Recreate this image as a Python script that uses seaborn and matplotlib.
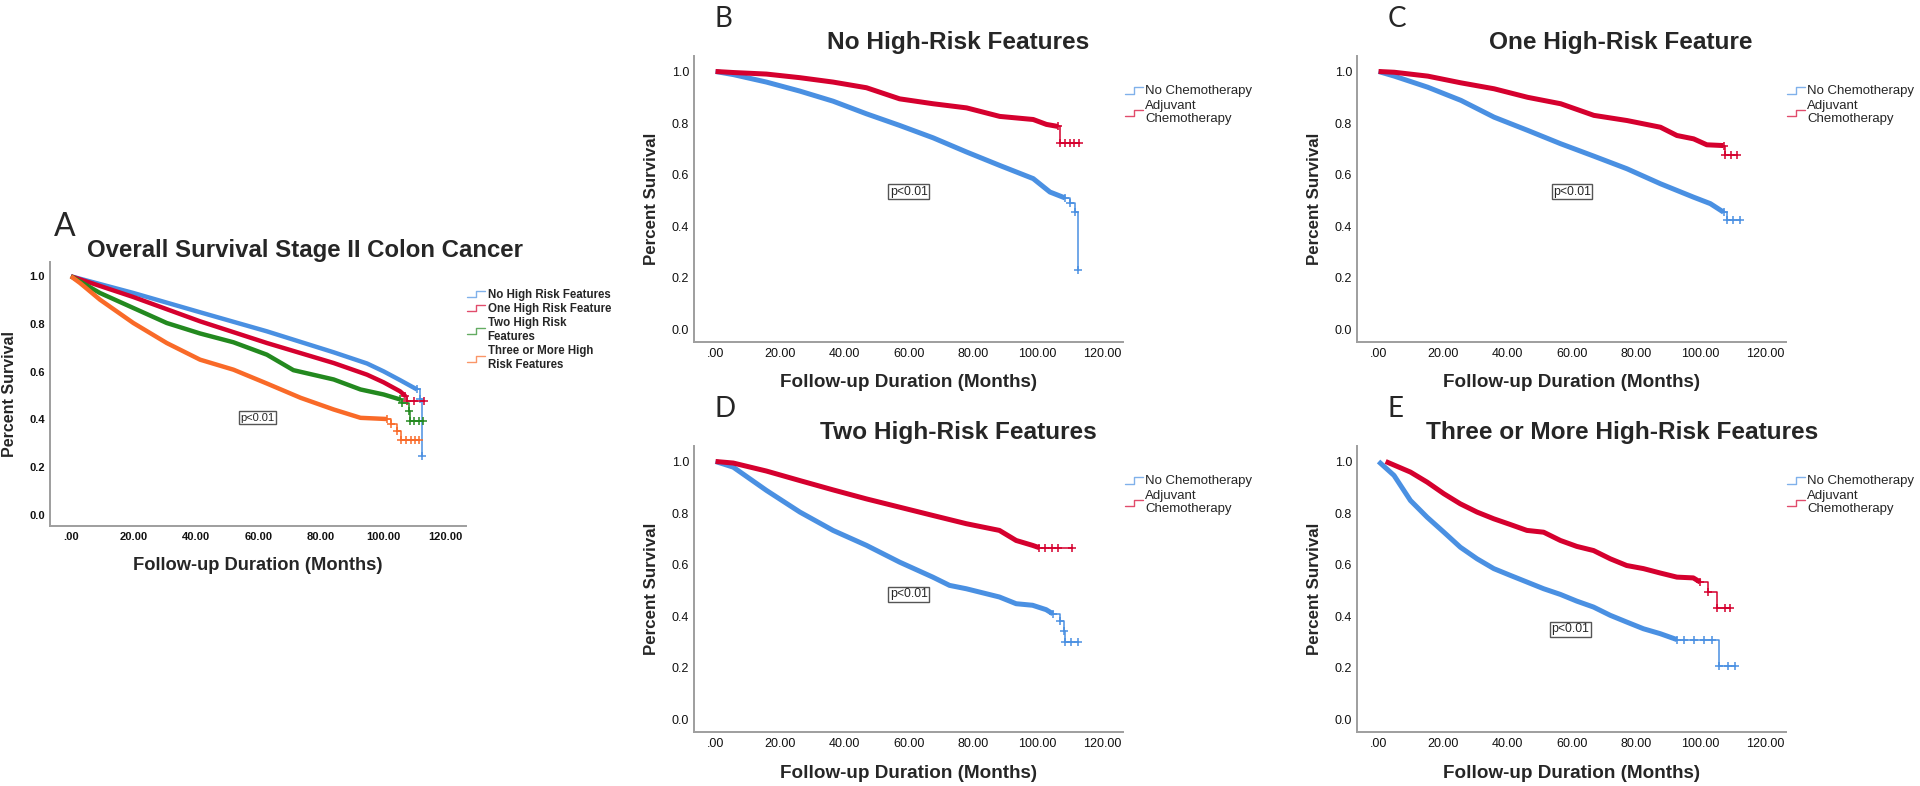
import matplotlib
matplotlib.use("Agg")
import matplotlib.pyplot as plt
import seaborn as sns
from matplotlib.lines import Line2D
from matplotlib.legend_handler import HandlerBase

# ---------------- data (months, survival proportion) ----------------
# Panel A: overall survival by number of high-risk features
a_none_t = [0, 20.0, 41.4, 62.8, 84.2, 94.9, 100.2, 105.5, 110.9]
a_none_s = [1.0, 0.930, 0.849, 0.769, 0.681, 0.634, 0.601, 0.564, 0.525]
a_none_tail_t = [110.9, 112.0, 112.5]
a_none_tail_s = [0.525, 0.483, 0.245]

a_one_t = [0, 20.0, 41.4, 62.8, 84.2, 94.9, 100.2, 105.5, 107.2]
a_one_s = [1.0, 0.913, 0.811, 0.720, 0.636, 0.587, 0.555, 0.517, 0.497]
a_one_tail_t = [107.2, 107.8, 110.0, 113.0]
a_one_tail_s = [0.497, 0.476, 0.476, 0.476]

a_two_t = [0, 9.3, 20.0, 30.7, 41.4, 52.1, 62.8, 71.3, 84.2, 92.8, 100.2, 105.5]
a_two_s = [1.0, 0.930, 0.867, 0.804, 0.760, 0.723, 0.671, 0.606, 0.567, 0.525, 0.504, 0.483]
a_two_tail_t = [105.5, 106.0, 108.4, 108.8, 110.0, 111.5, 112.8]
a_two_tail_s = [0.483, 0.469, 0.434, 0.392, 0.392, 0.392, 0.392]

a_three_t = [0, 2.9, 9.3, 20.0, 30.7, 41.4, 52.1, 62.8, 73.6, 84.2, 92.8, 101.3]
a_three_s = [1.0, 0.972, 0.902, 0.804, 0.720, 0.650, 0.608, 0.550, 0.490, 0.441, 0.406, 0.401]
a_three_tail_t = [101.3, 102.5, 104.4, 105.8, 107.5, 109.0, 110.3, 111.4]
a_three_tail_s = [0.401, 0.378, 0.350, 0.312, 0.312, 0.312, 0.312, 0.312]

# Panel B: no high-risk features
b_no_t = [0, 5.5, 15.8, 26.2, 36.5, 46.9, 57.2, 67.6, 78.0, 88.3, 98.7, 103.9, 108.6]
b_no_s = [1.0, 0.988, 0.959, 0.924, 0.885, 0.836, 0.791, 0.743, 0.688, 0.636, 0.585, 0.533, 0.510]
b_no_tail_t = [108.6, 110.1, 111.6, 112.6]
b_no_tail_s = [0.510, 0.492, 0.455, 0.232]
b_adj_t = [0, 5.5, 15.8, 26.2, 36.5, 46.9, 57.2, 67.6, 78.0, 88.3, 98.7, 102.8, 106.4]
b_adj_s = [1.0, 0.996, 0.990, 0.976, 0.959, 0.937, 0.894, 0.875, 0.859, 0.826, 0.814, 0.795, 0.787]
b_adj_tail_t = [106.4, 106.9, 108.5, 110.0, 111.5, 112.8]
b_adj_tail_s = [0.787, 0.724, 0.724, 0.724, 0.724, 0.724]

# Panel C: one high-risk feature
c_no_t = [0, 4.9, 15.3, 25.6, 35.9, 46.3, 56.6, 66.9, 77.2, 87.6, 97.9, 103.1, 107.2]
c_no_s = [1.0, 0.982, 0.939, 0.888, 0.823, 0.772, 0.720, 0.672, 0.623, 0.565, 0.513, 0.488, 0.455]
c_no_tail_t = [107.2, 108.2, 110.0, 112.3]
c_no_tail_s = [0.455, 0.423, 0.423, 0.423]
c_adj_t = [0, 4.9, 15.3, 25.6, 35.9, 46.3, 56.6, 66.9, 77.2, 87.6, 92.7, 97.9, 102.0, 107.2]
c_adj_s = [1.0, 0.997, 0.982, 0.956, 0.933, 0.900, 0.875, 0.830, 0.810, 0.784, 0.752, 0.739, 0.716, 0.713]
c_adj_tail_t = [107.2, 107.6, 109.5, 111.3]
c_adj_tail_s = [0.713, 0.675, 0.675, 0.675]

# Panel D: two high-risk features
d_no_t = [0, 5.5, 15.8, 26.2, 36.5, 46.9, 57.2, 67.5, 72.7, 77.9, 88.2, 93.4, 98.5, 102.7, 104.8]
d_no_s = [1.0, 0.978, 0.888, 0.804, 0.733, 0.675, 0.610, 0.552, 0.520, 0.507, 0.475, 0.449, 0.443, 0.426, 0.410]
d_no_tail_t = [104.8, 106.9, 108.3, 108.6, 110.5, 112.6]
d_no_tail_s = [0.410, 0.382, 0.345, 0.300, 0.300, 0.300]
d_adj_t = [0, 5.5, 15.8, 26.2, 36.5, 46.9, 57.2, 67.5, 77.9, 88.2, 93.4, 98.5, 100.6]
d_adj_s = [1.0, 0.994, 0.963, 0.926, 0.890, 0.855, 0.823, 0.791, 0.759, 0.733, 0.694, 0.675, 0.666]
d_adj_tail_t = [100.6, 102.5, 104.5, 106.4, 110.9]
d_adj_tail_s = [0.666, 0.666, 0.666, 0.666, 0.666]

# Panel E: three or more high-risk features
e_no_t = [0, 4.8, 9.9, 15.1, 20.3, 25.4, 30.6, 35.8, 40.9, 46.1, 51.3, 56.5, 61.6, 66.8,
          72.0, 77.1, 82.3, 87.5, 92.7]
e_no_s = [1.0, 0.946, 0.849, 0.784, 0.726, 0.668, 0.623, 0.585, 0.559, 0.533, 0.507, 0.485,
          0.459, 0.436, 0.404, 0.378, 0.352, 0.333, 0.310]
e_no_tail_t = [92.7, 95.0, 98.0, 101.0, 103.5, 105.7, 108.5, 110.8]
e_no_tail_s = [0.310, 0.310, 0.310, 0.310, 0.310, 0.206, 0.206, 0.206]
e_adj_t = [2.2, 9.9, 15.1, 20.3, 25.4, 30.6, 35.8, 40.9, 46.1, 51.3, 56.5, 61.6, 66.8, 72.0,
           77.1, 82.3, 87.5, 92.7, 97.8, 99.9]
e_adj_s = [1.0, 0.959, 0.920, 0.875, 0.836, 0.804, 0.778, 0.756, 0.733, 0.726, 0.694, 0.671,
           0.655, 0.623, 0.597, 0.585, 0.568, 0.552, 0.549, 0.533]
e_adj_tail_t = [99.9, 102.5, 105.3, 107.5, 109.2]
e_adj_tail_s = [0.533, 0.494, 0.434, 0.434, 0.434]

a_labels = ["No High Risk Features", "One High Risk Feature",
            "Two High Risk\nFeatures", "Three or More High\nRisk Features"]
chemo_labels = ["No Chemotherapy", "Adjuvant\nChemotherapy"]
panel_titles = ["No High-Risk Features", "One High-Risk Feature",
                "Two High-Risk Features", "Three or More High-Risk Features"]
x_ticks = [0, 20, 40, 60, 80, 100, 120]
x_tick_labels = [".00", "20.00", "40.00", "60.00", "80.00", "100.00", "120.00"]
y_ticks = [0.0, 0.2, 0.4, 0.6, 0.8, 1.0]
y_tick_labels = ["0.0", "0.2", "0.4", "0.6", "0.8", "1.0"]
p_text = "p<0.01"

# ---------------- style ----------------
BLUE = "#4A90E2"
RED = "#D5002E"
GREEN = "#23891F"
ORANGE = "#F96A28"
SPINE = "#9E9E9E"

sns.set_theme(style="white")
plt.rcParams["font.family"] = ["Liberation Sans", "DejaVu Sans"]
LETTER_FONT = ["Lato", "Liberation Sans", "DejaVu Sans"]

W, H = 1920, 786
fig = plt.figure(figsize=(W / 100, H / 100), dpi=100)


def fx(px):
    return px / W


def fy(py):
    return 1 - py / H


def make_ax(left, top, right, bottom):
    return fig.add_axes([fx(left), fy(bottom), fx(right) - fx(left), (bottom - top) / H])


class StepHandler(HandlerBase):
    def create_artists(self, legend, orig_handle, xdescent, ydescent,
                       width, height, fontsize, trans):
        x0 = -xdescent
        x1 = x0 + width
        xm = (x0 + x1) / 2
        ylo = -ydescent + height * 0.05
        yhi = -ydescent + height * 0.80
        ln = Line2D([x0, xm, xm, x1], [ylo, ylo, yhi, yhi],
                    color=orig_handle.get_color(), lw=orig_handle.get_linewidth(),
                    alpha=orig_handle.get_alpha())
        ln.set_transform(trans)
        return [ln]


def draw_curve(ax, t, s, tt, ts, color, lw):
    sns.lineplot(x=t, y=s, ax=ax, color=color, linewidth=lw,
                 solid_capstyle="butt", sort=False, estimator=None)
    sns.lineplot(x=tt, y=ts, ax=ax, color=color, linewidth=1.1,
                 drawstyle="steps-post", marker="+", markersize=6,
                 markeredgewidth=1.1, markeredgecolor=color,
                 sort=False, estimator=None)


def style_ax(ax, tick_fs, tick_weight, xl_fs, yl_fs, ylab_x, xlab_y):
    ax.set_xlim(-6.7, 126.6)
    ax.set_ylim(-0.048, 1.06)
    ax.set_xticks(x_ticks)
    ax.set_xticklabels(x_tick_labels, fontsize=tick_fs, fontweight=tick_weight)
    ax.set_yticks(y_ticks)
    ax.set_yticklabels(y_tick_labels, fontsize=tick_fs, fontweight=tick_weight)
    ax.tick_params(axis="both", length=0, colors="#111111")
    ax.tick_params(axis="y", pad=3.6)
    ax.tick_params(axis="x", pad=4.5)
    sns.despine(ax=ax)
    for sp in ("left", "bottom"):
        ax.spines[sp].set_color(SPINE)
        ax.spines[sp].set_linewidth(1.4)
    ax.set_xlabel("Follow-up Duration (Months)", fontsize=xl_fs, fontweight="bold")
    ax.set_ylabel("Percent Survival", fontsize=yl_fs, fontweight="bold")
    ax.xaxis.label.set_va("center")
    ax.yaxis.label.set_va("center")
    ax.xaxis.set_label_coords(0.5, xlab_y)
    ax.yaxis.set_label_coords(ylab_x, 0.5)
    ax.grid(False)


def p_box(ax, x, y, fs):
    ax.text(x, y, p_text, ha="center", va="center", fontsize=fs,
            bbox=dict(boxstyle="square,pad=0.12", fc="white", ec="#555555", lw=1.0))


# ---------------- panel A ----------------
axA = make_ax(50, 262, 466, 526)
draw_curve(axA, a_none_t, a_none_s, a_none_tail_t, a_none_tail_s, BLUE, 3.2)
draw_curve(axA, a_one_t, a_one_s, a_one_tail_t, a_one_tail_s, RED, 3.2)
draw_curve(axA, a_two_t, a_two_s, a_two_tail_t, a_two_tail_s, GREEN, 3.2)
draw_curve(axA, a_three_t, a_three_s, a_three_tail_t, a_three_tail_s, ORANGE, 3.2)
style_ax(axA, 8, "bold", 13.2, 11.5, -40 / 416, -39 / 264)
p_box(axA, 59.7, 0.407, 8)
handlesA = [Line2D([], [], color=c, lw=1.0, alpha=0.7) for c in (BLUE, RED, GREEN, ORANGE)]
legA = axA.legend(handlesA, a_labels, loc="upper left",
                  bbox_to_anchor=(fx(467), fy(288.5)), bbox_transform=fig.transFigure,
                  frameon=False, borderpad=0, borderaxespad=0, handlelength=1.55,
                  handletextpad=0.25, labelspacing=0.2,
                  prop={"size": 8.3, "weight": "bold"},
                  handler_map={Line2D: StepHandler()})
for t in legA.get_texts():
    t.set_linespacing(1.22)
fig.text(fx(65), fy(236), "A", fontsize=23, family=LETTER_FONT, ha="center", va="baseline")
fig.text(fx(305), fy(256.7), "Overall Survival Stage II Colon Cancer",
         fontsize=17.3, fontweight="bold", ha="center", va="baseline")

# ---------------- panels B-E ----------------
specs = [
    (694, 56, 1123, 342, (b_no_t, b_no_s, b_no_tail_t, b_no_tail_s),
     (b_adj_t, b_adj_s, b_adj_tail_t, b_adj_tail_s), 958, 723, "B", (60.0, 0.535), 1125),
    (1357, 56, 1786, 342, (c_no_t, c_no_s, c_no_tail_t, c_no_tail_s),
     (c_adj_t, c_adj_s, c_adj_tail_t, c_adj_tail_s), 1621, 1397, "C", (60.1, 0.535), 1787),
    (694, 446, 1123, 732, (d_no_t, d_no_s, d_no_tail_t, d_no_tail_s),
     (d_adj_t, d_adj_s, d_adj_tail_t, d_adj_tail_s), 958, 725, "D", (60.0, 0.485), 1125),
    (1357, 446, 1786, 732, (e_no_t, e_no_s, e_no_tail_t, e_no_tail_s),
     (e_adj_t, e_adj_s, e_adj_tail_t, e_adj_tail_s), 1622, 1395, "E", (59.6, 0.350), 1787),
]

for i, (l, tp, r, b, no, adj, tcx, lx, letter, ppos, legx) in enumerate(specs):
    ax = make_ax(l, tp, r, b)
    draw_curve(ax, *no, BLUE, 3.6)
    draw_curve(ax, *adj, RED, 3.6)
    style_ax(ax, 9, "normal", 13.6, 12.2, -42.5 / 429, -41 / 286)
    p_box(ax, ppos[0], ppos[1], 8.8)
    handles = [Line2D([], [], color=c, lw=1.0, alpha=0.7) for c in (BLUE, RED)]
    leg = ax.legend(handles, chemo_labels, loc="upper left",
                    bbox_to_anchor=(fx(legx), fy(tp + 29)), bbox_transform=fig.transFigure,
                    frameon=False, borderpad=0, borderaxespad=0, handlelength=1.36,
                    handletextpad=0.19, labelspacing=0.22, prop={"size": 9.5},
                    handler_map={Line2D: StepHandler()})
    for t in leg.get_texts():
        t.set_linespacing(1.07)
    fig.text(fx(lx), fy(tp - 29.3), letter, fontsize=20, family=LETTER_FONT,
             ha="center", va="baseline")
    fig.text(fx(tcx), fy(tp - 6.7), panel_titles[i], fontsize=17.6, fontweight="bold",
             ha="center", va="baseline")

fig.savefig("out.png", dpi=100, facecolor="white")
